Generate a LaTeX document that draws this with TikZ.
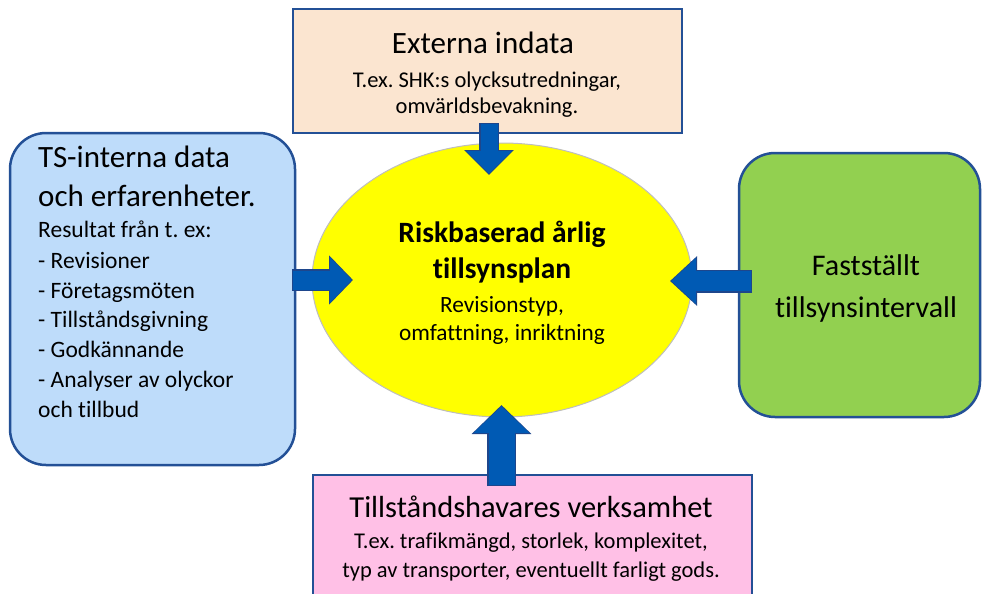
\documentclass[tikz,border=0pt]{standalone}
\usepackage{fontspec}
\setmainfont{Carlito}[Ligatures=NoCommon]
\usetikzlibrary{arrows.meta,shapes.geometric}
\definecolor{boxborder}{RGB}{35,80,150}
\definecolor{peach}{RGB}{251,229,208}
\definecolor{lightblue}{RGB}{190,220,250}
\definecolor{ellyellow}{RGB}{255,255,0}
\definecolor{ellborder}{RGB}{190,190,190}
\definecolor{green}{RGB}{146,208,80}
\definecolor{pink}{RGB}{255,192,230}
\definecolor{arrowfill}{RGB}{0,90,180}
\definecolor{arrowline}{RGB}{30,70,140}
\newcommand\setfs[1]{\fontsize{#1}{#1}\selectfont}
\frenchspacing
\begin{document}
\begin{tikzpicture}[x=1pt,y=-1pt,
  box/.style={draw=boxborder, line width=2.5pt, inner sep=0pt},
  rbox/.style={box, rounded corners=36pt},
  txt/.style={inner sep=0pt, anchor=base, text=black},
  ltxt/.style={inner sep=0pt, anchor=base west, text=black},
]
\useasboundingbox (0,0) rectangle (982,594);

% boxes
\node[box, fill=peach, minimum width=389pt, minimum height=124pt] (top) at (487.5,71) {};
\node[rbox, fill=lightblue, minimum width=285pt, minimum height=332pt] (left) at (152.5,299) {};
\node[rbox, fill=green, minimum width=241pt, minimum height=264pt] (right) at (859.5,285) {};
\node[box, fill=pink, minimum width=439pt, minimum height=165pt] (bottom) at (532.5,557.5) {};
\node[ellipse, draw=ellborder, line width=1pt, fill=ellyellow, minimum width=380pt, minimum height=274pt, inner sep=0pt] (plan) at (502,280) {};

% arrows
\coordinate (ta1) at (489,123); \coordinate (ta2) at (489,175);
\coordinate (la1) at (292,280); \coordinate (la2) at (353,280);
\coordinate (ra1) at (752,281); \coordinate (ra2) at (670,281);
\coordinate (ba1) at (501.5,486); \coordinate (ba2) at (501.5,405);

\draw[arrowline, line width=20pt, -{Triangle[width=48pt,length=25pt]}] (ta1) -- (ta2);
\draw[arrowfill, line width=17pt, shorten >=1.3pt, shorten <=1.3pt, -{Triangle[width=44pt,length=22.5pt]}] (ta1) -- (ta2);

\draw[arrowline, line width=22pt, -{Triangle[width=48pt,length=24pt]}] (la1) -- (la2);
\draw[arrowfill, line width=19pt, shorten >=1.3pt, shorten <=1.3pt, -{Triangle[width=44pt,length=21.5pt]}] (la1) -- (la2);

\draw[arrowline, line width=23pt, -{Triangle[width=48pt,length=27pt]}] (ra1) -- (ra2);
\draw[arrowfill, line width=20pt, shorten >=1.3pt, shorten <=1.3pt, -{Triangle[width=44pt,length=24.5pt]}] (ra1) -- (ra2);

\draw[arrowline, line width=29pt, -{Triangle[width=58pt,length=29pt]}] (ba1) -- (ba2);
\draw[arrowfill, line width=26pt, shorten >=1.3pt, shorten <=1.3pt, -{Triangle[width=54pt,length=26.5pt]}] (ba1) -- (ba2);

% top texts
\node[txt] (toptitle) at (483,53) {\setfs{31}Externa indata};
\node[txt] (topsub1) at (487,87) {\setfs{22.5}T.ex. SHK:s olycksutredningar,};
\node[txt] (topsub2) at (487,113) {\setfs{22.5}omvärldsbevakning.};

% left texts
\node[ltxt] (lt1) at (38,167) {\setfs{31}TS-interna data};
\node[ltxt] (lt2) at (38,206) {\setfs{31}och erfarenheter.};
\node[ltxt] (lt3) at (38,237) {\setfs{23.5}Resultat från t. ex:};
\node[ltxt] (lt4) at (38,268) {\setfs{23.5}- Revisioner};
\node[ltxt] (lt5) at (38,298) {\setfs{23.5}- Företagsmöten};
\node[ltxt] (lt6) at (38,327) {\setfs{23.5}- Tillståndsgivning};
\node[ltxt] (lt7) at (38,357) {\setfs{23.5}- Godkännande};
\node[ltxt] (lt8) at (38,387) {\setfs{23.5}- Analyser av olyckor};
\node[ltxt] (lt9) at (38,417) {\setfs{23.5}och tillbud};

% ellipse texts
\node[txt] (pt1) at (502,242) {\setfs{29.5}\bfseries Riskbaserad årlig};
\node[txt] (pt2) at (502,278) {\setfs{29.5}\bfseries tillsynsplan};
\node[txt] (pt3) at (502,312) {\setfs{23.3}Revisionstyp,};
\node[txt] (pt4) at (502,340) {\setfs{23.3}omfattning, inriktning};

% right texts
\node[txt] (rt1) at (866,275) {\setfs{30}Fastställt};
\node[txt] (rt2) at (866,317) {\setfs{30}tillsynsintervall};

% bottom texts
\node[txt] (bt1) at (531,517) {\setfs{30.5}Tillståndshavares verksamhet};
\node[txt] (bt2) at (531,548) {\setfs{22.5}T.ex. trafikmängd, storlek, komplexitet,};
\node[txt] (bt3) at (531,577) {\setfs{22.5}typ av transporter, eventuellt farligt gods.};
\end{tikzpicture}
\end{document}
